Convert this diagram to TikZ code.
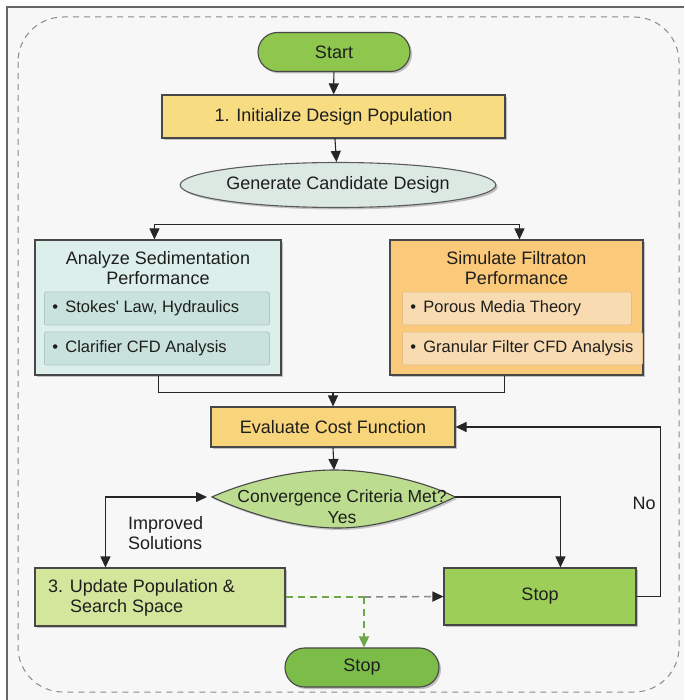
\documentclass[tikz,border=0pt]{standalone}
\usepackage{fontspec}
\setmainfont{Liberation Sans}
\usetikzlibrary{shapes.geometric,shapes.misc,arrows.meta,calc,shadows}
\pgfdeclarelayer{bg}
\pgfsetlayers{bg,main}
\definecolor{pagebg}{HTML}{F7F7F7}
\definecolor{framec}{HTML}{666666}
\definecolor{dashc}{HTML}{8A8A8A}
\definecolor{lineclr}{HTML}{262626}
\definecolor{txt}{HTML}{1E1E1E}
\definecolor{startg}{HTML}{8EC64E}
\definecolor{inity}{HTML}{F8DC82}
\definecolor{gene}{HTML}{DCE9E3}
\definecolor{sedic}{HTML}{DCEFEB}
\definecolor{sedii}{HTML}{C9E2DC}
\definecolor{sedib}{HTML}{A8CAC3}
\definecolor{simc}{HTML}{FBC97A}
\definecolor{simi}{HTML}{F8DBB0}
\definecolor{simb}{HTML}{E6BE85}
\definecolor{evaly}{HTML}{F8D57A}
\definecolor{convg}{HTML}{BCDD8F}
\definecolor{updg}{HTML}{D3E69C}
\definecolor{stopbg}{HTML}{9DCF58}
\definecolor{stoptg}{HTML}{7CBD4A}
\definecolor{greend}{HTML}{6FA84A}
\begin{document}
\begin{tikzpicture}[x=1pt,y=-1pt,
  font=\fontsize{18}{20}\selectfont,
  >={Triangle[length=11pt,width=10pt]},
  box/.style={draw=lineclr!85, line width=1.1pt, inner sep=0pt, text=txt,
    drop shadow={shadow xshift=2pt, shadow yshift=-2pt, opacity=0.22, fill=black}},
  subbox/.style={rectangle, rounded corners=2pt, line width=0.8pt, inner xsep=8pt,
    inner ysep=0pt, minimum height=33pt, anchor=west, text=txt,
    font=\fontsize{16.5}{19}\selectfont},
  conn/.style={draw=lineclr, line width=1.1pt, ->},
  lbl/.style={text=txt, inner sep=0pt}
]
% page
\useasboundingbox (0,0) rectangle (684,700);
\fill[white] (0,0) rectangle (684,700);
\fill[pagebg] (7,7) rectangle (684,700);
\draw[framec, line width=1.2pt] (7,700) -- (7,7) -- (684,7);
\draw[dashc, line width=1pt, dash pattern=on 6pt off 5pt, rounded corners=45pt]
  (18,17) rectangle (679,692);

% nodes
\node[box, rounded rectangle, fill=startg, minimum width=152pt, minimum height=39pt]
  (start) at (334,52) {Start};
\node[box, rectangle, fill=inity, minimum width=343pt, minimum height=43pt]
  (init) at (333.5,116.5) {1. Initialize Design Population};
\node[box, ellipse, fill=gene, draw=lineclr!75, minimum width=310pt, minimum height=45pt]
  (gen) at (338,185) {Generate Candidate Design};

\node[box, rectangle, fill=sedic, minimum width=246pt, minimum height=135pt]
  (sedi) at (158,307.5) {};
\node[lbl, align=center] (seditl) at (158,268.5) {Analyze Sedimentation\\Performance};
\node[subbox, fill=sedii, draw=sedib] (s1) at (44,308.5)
  {\makebox[209pt][l]{\makebox[13pt][l]{\textbullet}Stokes\textquotesingle\ Law, Hydraulics}};
\node[subbox, fill=sedii, draw=sedib] (s2) at (44,348.5)
  {\makebox[209pt][l]{\makebox[13pt][l]{\textbullet}Clarifier CFD Analysis}};

\node[box, rectangle, fill=simc, minimum width=253pt, minimum height=135pt]
  (sim) at (516.5,307.5) {};
\node[lbl, align=center] (simtl) at (516.5,268.5) {Simulate Filtraton\\Performance};
\node[subbox, fill=simi, draw=simb] (f1) at (402,308.5)
  {\makebox[213pt][l]{\makebox[13pt][l]{\textbullet}Porous Media Theory}};
\node[subbox, fill=simi, draw=simb, inner xsep=0pt] (f2) at (402,348.5)
  {\hspace*{8pt}\makebox[232pt][l]{\makebox[13pt][l]{\textbullet}Granular Filter CFD Analysis}};

\node[box, rectangle, fill=evaly, minimum width=244pt, minimum height=40pt]
  (eval) at (333,427) {Evaluate Cost Function};

% convergence diamond (curved sides)
\coordinate (cvW) at (212,497);
\coordinate (cvN) at (334,470);
\coordinate (cvE) at (455,497);
\coordinate (cvS) at (338,528);
\fill[black, opacity=0.2] ($(cvW)+(2,2)$) .. controls ($(240,484)+(2,2)$) and ($(290,470)+(2,2)$) .. ($(cvN)+(2,2)$)
  .. controls ($(380,470)+(2,2)$) and ($(430,484)+(2,2)$) .. ($(cvE)+(2,2)$)
  .. controls ($(425,512)+(2,2)$) and ($(380,528)+(2,2)$) .. ($(cvS)+(2,2)$)
  .. controls ($(290,528)+(2,2)$) and ($(240,510)+(2,2)$) .. ($(cvW)+(2,2)$) -- cycle;
\draw[fill=convg, draw=lineclr!85, line width=1.1pt]
  (cvW) .. controls (240,484) and (290,470) .. (cvN)
  .. controls (380,470) and (430,484) .. (cvE)
  .. controls (425,512) and (380,528) .. (cvS)
  .. controls (290,528) and (240,510) .. (cvW) -- cycle;
\node[lbl, align=center, font=\fontsize{17.5}{21}\selectfont] (conv) at (342,506.5)
  {Convergence Criteria Met?\\Yes};

\node[box, rectangle, fill=updg, minimum width=250pt, minimum height=58pt]
  (upd) at (160,597) {};
\node[lbl, align=left, anchor=west] (updtxt) at (48,598)
  {3. Update Population \&\\\hspace*{22pt}Search Space};

\node[box, rectangle, fill=stopbg, minimum width=192pt, minimum height=57pt]
  (stopb) at (540,596.5) {Stop};
\node[box, rounded rectangle, fill=stoptg, minimum width=154pt, minimum height=39pt]
  (stopt) at (362,667.5) {Stop};

% labels
\node[lbl, align=left, anchor=west] (impl) at (128,533) {Improved\\Solutions};
\node[lbl] (nolbl) at (644,503) {No};

% connectors
\draw[conn] (start) -- (init);
\draw[conn] (init) -- (gen);
\begin{pgfonlayer}{bg}
\draw[lineclr, line width=1.1pt] ($(gen.center)+(-99,0)$) -- ($(gen.center)+(-99,40)$);
\draw[lineclr, line width=1.1pt] ($(gen.center)+(86,0)$) -- ($(gen.center)+(86,40)$);
\end{pgfonlayer}
\coordinate (splitL) at ($(sedi.north west)+(120,-15)$);
\coordinate (splitR) at ($(sim.north west)+(130,-15)$);
\draw[lineclr, line width=1.1pt] (splitL) -- (splitR);
\draw[conn] (splitL) -- (splitL |- sedi.north);
\draw[conn] (splitR) -- (splitR |- sim.north);

\coordinate (joinL) at ($(sedi.south west)+(124,17)$);
\coordinate (joinR) at ($(sim.south west)+(115,17)$);
\draw[lineclr, line width=1.1pt] ($(sedi.south west)+(124,0)$) -- (joinL) -- (joinR) -- ($(sim.south west)+(115,0)$);
\draw[conn] (joinL -| eval.north) -- (eval.north);
\draw[conn] (eval.south) -- (cvN);

\draw[conn] (cvE) -| ($(stopb.north west)+(117,0)$);
\draw[draw=lineclr, line width=1.1pt, <->] ($(cvW)+(-5,0)$) -| ($(upd.north west)+(71,0)$);
\draw[conn] (stopb.east) -- ++(24,0) |- (eval.east);

\coordinate (jn) at ($(stopt.north |- upd.east)+(2,0)$);
\draw[greend, line width=1.6pt, dash pattern=on 7pt off 5pt] (upd.east) -- (jn);
\draw[dashc, line width=1.6pt, dash pattern=on 7pt off 5pt, -{Triangle[length=11pt,width=10pt,color=lineclr]}]
  (jn) -- (stopb.west);
\draw[greend, line width=1.6pt, dash pattern=on 7pt off 5pt, -{Triangle[length=11pt,width=10pt]}]
  (jn) -- (jn |- stopt.north);
\end{tikzpicture}
\end{document}
